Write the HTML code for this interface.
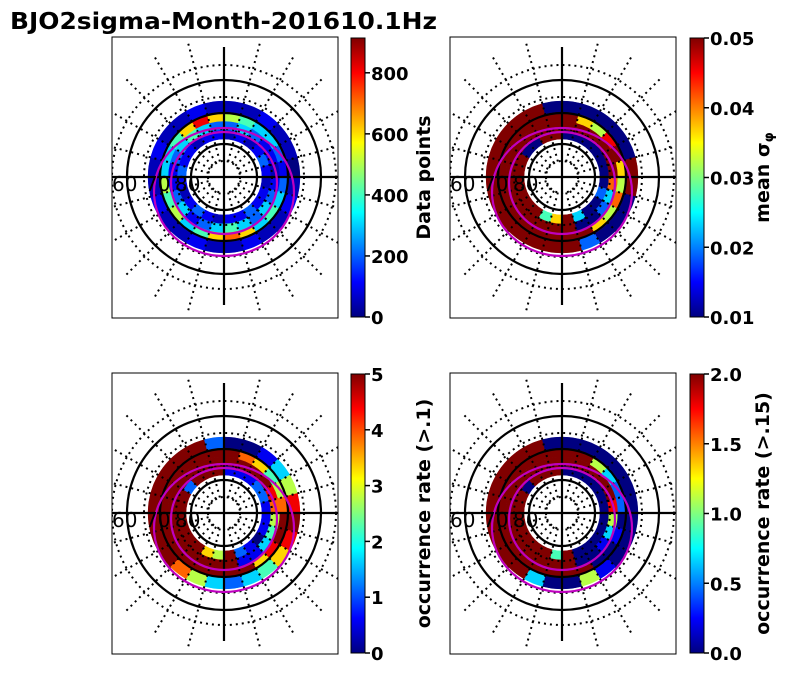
<!DOCTYPE html>
<html><head><meta charset="utf-8"><style>
body{margin:0;background:#fff;}
svg{display:block;font-family:"DejaVu Sans","Liberation Sans",sans-serif;}
</style></head><body>
<svg id="fig" width="792" height="674" viewBox="0 0 792 674">
<text x="10" y="29" font-size="23" font-weight="bold" fill="#000" textLength="427" lengthAdjust="spacingAndGlyphs">BJO2sigma-Month-201610.1Hz</text>
</svg>
<script>
// data are levels 0..9 per sector (24 sectors, clockwise from top), one array per ring
const p1Ring0=[0.5,1,0.5,1,2,1,0.5,1,1,2,1,1,0.5,1,2,1,0.5,1,2,1,1,0.5,1,1];
const p1Ring1=[2,3,2,1,1,0.5,1,2,3,2,3,4,3,2,1,3,2,1,1,2,3,4,3,2];
const p1Ring2=[5,4,3,3,2,1,2,3,4,3,6,7,6,4,3,5,4,5,3,3,4,6,8,6];
const p1Ring3=[0.5,0.5,1,0.5,0.5,0,0.5,1,0.5,0.5,1,0.5,0.5,1,0.5,0.5,1,0.5,0.5,1,0.5,0.5,1,0.5];
const p2Ring0=[0,0,0,0,0,0,0,2,0,0,3,9,6,4,9,9,9,9,9,9,0,0,9,9];
const p2Ring1=[9,9,9,9,9,9,7,3,2,0,0,9,9,9,9,9,9,9,9,9,9,9,9,9];
const p2Ring2=[9,6,5,8,9,6,5,7,5,6,9,9,9,9,9,9,9,9,9,9,9,9,9,9];
const p2Ring3=[0,0,0,0,0,9,9,0,0,0,2,9,9,9,9,9,9,9,9,9,9,9,9,0];
const p3Ring0=[1,1,1,2,2,1,1,1,0,1,2,9,5,6,9,9,9,9,9,9,2,9,9,9];
const p3Ring1=[9,9,9,9,8,7,5,4,3,1,1,9,9,9,9,9,9,9,9,9,9,9,9,9];
const p3Ring2=[9,7,6,4,5,7,9,9,8,6,9,9,9,9,9,9,9,9,9,9,9,9,9,9];
const p3Ring3=[0,0,1,3,5,8,9,8,6,4,3,2,3,5,7,9,9,9,9,9,9,9,9,2];
const p4Ring0=[0,0,0,0,0,0,0,0,0,0,0,9,4,9,9,9,9,9,9,9,0,9,9,9];
const p4Ring1=[9,9,9,9,9,8,5,3,1,0,0,9,9,9,9,9,9,9,9,9,9,9,9,9];
const p4Ring2=[9,9,5,3,2,2,0,1,0,0,9,9,9,9,9,9,9,9,9,9,9,9,9,9];
const p4Ring3=[0,0,0,0,0,0,0,0,0,1,5,0,0,3,9,9,9,9,9,9,9,9,9,0];
const p1Ticks=[0,200,400,600,800];
const p2Ticks=["0.01","0.02","0.03","0.04","0.05"];
const p3Ticks=["0","1","2","3","4","5"];
const p4Ticks=["0.0","0.5","1.0","1.5","2.0"];

const NS="http://www.w3.org/2000/svg";
const svg=document.getElementById('fig');
function mk(tag,attrs,parent){const e=document.createElementNS(NS,tag);for(const k in attrs)e.setAttribute(k,attrs[k]);(parent||svg).appendChild(e);return e;}
function jet(t){t=Math.max(0,Math.min(1,t));
 const r=Math.max(0,Math.min(1,1.5-Math.abs(4*t-3))),g=Math.max(0,Math.min(1,1.5-Math.abs(4*t-2))),b=Math.max(0,Math.min(1,1.5-Math.abs(4*t-1)));
 return `rgb(${Math.round(r*255)},${Math.round(g*255)},${Math.round(b*255)})`;}
const ringEdges=[38,47,56,65,76];
function pt(cx,cy,r,a){return [cx+r*Math.sin(a),cy-r*Math.cos(a)];}

function panel(idx,ax,ay,rings,cbx,ticks,vmin,vmax,label){
 const W=226,H=281,cx=ax+112,cy=ay+140;
 const g=mk('g',{});
 
 
 const cid='clip'+idx;
 const cp=mk('clipPath',{id:cid},g);mk('rect',{x:ax,y:ay,width:W,height:H},cp);
 const inner=mk('g',{'clip-path':`url(#${cid})`},g);
 rings.forEach((arr,ri)=>{
  const n=arr.length,r0=ringEdges[ri],r1=ringEdges[ri+1];
  arr.forEach((v,si)=>{
   const a0=si*2*Math.PI/n,a1=(si+1)*2*Math.PI/n;
   const p0=pt(cx,cy,r0,a0),p1=pt(cx,cy,r1,a0),p2=pt(cx,cy,r1,a1),p3=pt(cx,cy,r0,a1);
   const c=mk('path',{d:`M${p0}L${p1}A${r1},${r1} 0 0 1 ${p2}L${p3}A${r0},${r0} 0 0 0 ${p0}Z`,fill:jet(v/9),stroke:jet(v/9),'stroke-width':0.5},inner);
   
   
  });
 });
 for(let k=0;k<24;k++){ if(k%6===0)continue;
  const a=k*Math.PI/12,p=pt(cx,cy,16,a),q=pt(cx,cy,140,a);
  mk('line',{x1:p[0],y1:p[1],x2:q[0],y2:q[1],stroke:'#000','stroke-width':2,'stroke-dasharray':'2,4'},inner);}
 [16,48,80,112].forEach(r=>mk('circle',{cx,cy,r,fill:'none',stroke:'#000','stroke-width':2,'stroke-dasharray':'2,4'},inner));
 [33,64,97].forEach(r=>mk('circle',{cx,cy,r,fill:'none',stroke:'#000','stroke-width':2.2}, inner));
 mk('line',{x1:cx,y1:cy-130,x2:cx,y2:cy+128,stroke:'#000','stroke-width':2.2},inner);
 mk('line',{x1:ax,y1:cy,x2:ax+W,y2:cy,stroke:'#000','stroke-width':2.2},inner);
 const m1=mk('ellipse',{cx:cx,cy:cy+6,rx:53,ry:51,fill:'none',stroke:'#bf00bf','stroke-width':2.2},inner);
 
 
 const m2=mk('ellipse',{cx:cx,cy:cy+15,rx:70,ry:64,fill:'none',stroke:'#bf00bf','stroke-width':2.2},inner);
 
 
 [['60',ax],['70',ax+33],['80',ax+63]].forEach(([t,x])=>{
  const tx=mk('text',{x:x,y:cy+14,'font-size':20,fill:'#000'},inner);tx.textContent=t;
  
  });
 mk('rect',{x:ax,y:ay,width:W,height:H,fill:'none',stroke:'#000','stroke-width':1},g);
 const cb=mk('g',{},g);
 
 
 const gid='grad'+idx;
 const lg=mk('linearGradient',{id:gid,x1:0,y1:1,x2:0,y2:0},cb);
 for(let i=0;i<=8;i++)mk('stop',{offset:i/8,'stop-color':jet(i/8)},lg);
 mk('rect',{x:cbx,y:ay+1,width:14,height:H-2,fill:`url(#${gid})`,stroke:'#000','stroke-width':1},cb);
 ticks.forEach(t=>{
  const y=ay+H-1-(parseFloat(t)-vmin)/(vmax-vmin)*(H-2);
  mk('line',{x1:cbx+14,y1:y,x2:cbx+19,y2:y,stroke:'#000','stroke-width':1.5},cb);
  const tx=mk('text',{x:cbx+20,y:y+7,'font-size':18,'font-weight':'bold',fill:'#000'},cb);tx.textContent=t;
  
  });
 const lx=cbx+79,ly=ay+H/2;
 const lb=mk('text',{x:lx,y:ly,'font-size':19,'font-weight':'bold','text-anchor':'middle',transform:`rotate(-90 ${lx} ${ly})`},cb);
 lb.innerHTML=label;
 
 
}
panel(1,112,37,[p1Ring0,p1Ring1,p1Ring2,p1Ring3],351,p1Ticks,0,914,'Data points');
panel(2,450,37,[p2Ring0,p2Ring1,p2Ring2,p2Ring3],690,p2Ticks,0.01,0.05,'mean σ<tspan font-size="13" dy="4">φ</tspan>');
panel(3,112,373,[p3Ring0,p3Ring1,p3Ring2,p3Ring3],351,p3Ticks,0,5,'occurrence rate (&gt;.1)');
panel(4,450,373,[p4Ring0,p4Ring1,p4Ring2,p4Ring3],690,p4Ticks,0,2,'occurrence rate (&gt;.15)');
</script>
</body></html>
